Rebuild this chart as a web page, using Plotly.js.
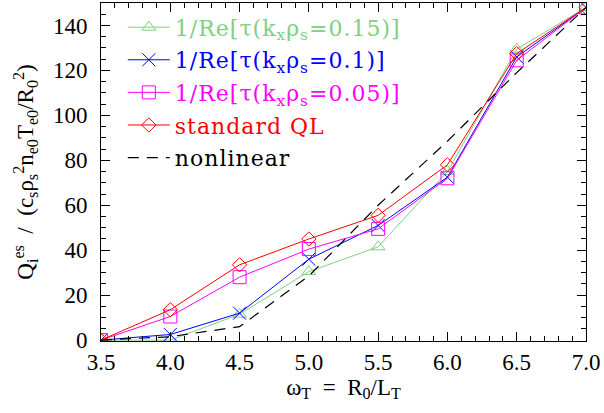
<!DOCTYPE html>
<html>
<head>
<meta charset="utf-8">
<script src="https://cdn.plot.ly/plotly-3.0.1.min.js"></script>
<style>
html,body{margin:0;padding:0;background:#fff;}
#chart{width:604px;height:413px;}
text.legendtext{letter-spacing:1px;}
</style>
</head>
<body>
<div id="chart"></div>
<script>
// x values: omega_T = R0/LT
const omegaT = [3.5, 4.0, 4.5, 5.0, 5.5, 6.0, 6.5, 7.0];
// Q_i^es for each model
const qTau015 = [0, 0, 11.5, 30.5, 41.5, 75, 129.5, 148];
const qTau010 = [0, 2.5, 12, 36, 51, 72.5, 126, 148];
const qTau005 = [0, 10.5, 28, 40.5, 49.5, 72, 124.5, 148];
const qStdQL = [0, 13.5, 33.5, 45, 55.5, 78, 127.5, 148];
const qNonlinear = [0, 1.5, 6, 28.5, 60, 88.5, 119, 148];

const seriesNames = [
  "1/Re[τ(k<sub>x</sub>ρ<sub>s</sub>=0.15)]",
  "1/Re[τ(k<sub>x</sub>ρ<sub>s</sub>=0.1)]",
  "1/Re[τ(k<sub>x</sub>ρ<sub>s</sub>=0.05)]",
  "standard QL",
  "nonlinear"
];
const xTickVals = [3.5, 4.0, 4.5, 5.0, 5.5, 6.0, 6.5, 7.0];
const yTickVals = [0, 20, 40, 60, 80, 100, 120, 140];

const GREEN = '#80d080', BLUE = '#0000ff', MAGENTA = '#ff00ff', RED = '#ff0000', BLACK = '#000000';

function colored(name, c){ return '<span style="color:' + c + '">' + name + '</span>'; }

function markerTrace(y, name, color, symbol, size, group){
  return {
    x: omegaT, y: y, type: 'scatter', mode: 'lines+markers',
    name: colored(name, color), legendgroup: group,
    line: {color: color, width: 1},
    marker: {symbol: symbol, size: size, color: color, line: {color: color, width: 1}}
  };
}

const traces = [
  markerTrace(qTau015, seriesNames[0], GREEN, 'triangle-up-open', 12, 'g1'),
  markerTrace(qTau010, seriesNames[1], BLUE, 'x-thin-open', 13, 'g2'),
  markerTrace(qTau005, seriesNames[2], MAGENTA, 'square-open', 13, 'g3'),
  markerTrace(qStdQL, seriesNames[3], RED, 'diamond-open', 11, 'g4'),
  {
    x: omegaT, y: qNonlinear, type: 'scatter', mode: 'lines',
    name: colored(seriesNames[4], BLACK), legendgroup: 'g5',
    line: {color: BLACK, width: 1.2, dash: '11px,8px'}
  }
];

const tickFont = {family: 'Liberation Serif, serif', size: 23, color: '#000'};

const layout = {
  width: 604, height: 413,
  margin: {l: 101, r: 18, t: 3, b: 72},
  paper_bgcolor: '#fff', plot_bgcolor: '#fff',
  showlegend: true,
  legend: {
    x: 0.045, y: 0.99, xanchor: 'left', yanchor: 'top',
    bgcolor: 'rgba(0,0,0,0)', borderwidth: 0,
    font: {family: 'DejaVu Serif, serif', size: 22, color: '#000'},
    traceorder: 'grouped', tracegroupgap: 1, itemwidth: 42
  },
  xaxis: {
    range: [3.5, 7.0], tickvals: xTickVals, tickformat: '.1f',
    ticks: 'inside', ticklen: 9, tickwidth: 1, tickcolor: '#000',
    minor: {dtick: 0.1, ticks: 'inside', ticklen: 5, tickcolor: '#000', showgrid: false},
    mirror: 'ticks', showline: true, linecolor: '#000', linewidth: 1,
    showgrid: false, zeroline: false, tickfont: tickFont, ticklabelstandoff: 0,
    title: {text: 'ω<sub>T</sub>  =  R<sub>0</sub>/L<sub>T</sub>', font: tickFont, standoff: 2}
  },
  yaxis: {
    range: [-0.4, 150], tickvals: yTickVals,
    ticks: 'inside', ticklen: 9, tickwidth: 1, tickcolor: '#000',
    minor: {dtick: 5, ticks: 'inside', ticklen: 5, tickcolor: '#000', showgrid: false},
    mirror: 'ticks', showline: true, linecolor: '#000', linewidth: 1,
    showgrid: false, zeroline: false, tickfont: tickFont, ticklabelstandoff: 8,
    title: {
      text: 'Q<sub>i</sub><sup>es</sup>  /  (c<sub>s</sub>ρ<sub>s</sub><sup>2</sup>n<sub>e0</sub>T<sub>e0</sub>/R<sub>0</sub><sup>2</sup>)',
      font: {family: 'Liberation Serif, serif', size: 23, color: '#000'}, standoff: 12
    }
  }
};

Plotly.newPlot('chart', traces, layout, {displayModeBar: false, staticPlot: true});
</script>
</body>
</html>
